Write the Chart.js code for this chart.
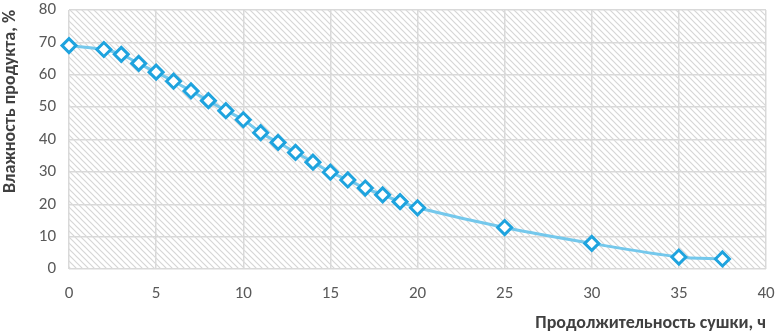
<!DOCTYPE html>
<html>
<head>
<meta charset="utf-8">
<script src="https://cdn.jsdelivr.net/npm/chart.js@4/dist/chart.umd.min.js"></script>
<style>
  html, body { margin: 0; padding: 0; background: #fff; }
  #wrap { width: 776px; height: 334px; }
</style>
</head>
<body>
<div id="wrap"><canvas id="dryChart" width="776" height="334"></canvas></div>
<script>
// Data: drying time (h) vs product moisture (%)
const hours = [0, 2, 3, 4, 5, 6, 7, 8, 9, 10, 11, 12, 13, 14, 15, 16, 17, 18, 19, 20, 25, 30, 35, 37.5];
const moisture = [69, 67.8, 66.3, 63.5, 60.8, 58, 55, 52, 48.9, 46.1, 42.1, 39.1, 36, 33, 29.9, 27.5, 25, 22.9, 20.8, 18.9, 12.8, 7.9, 3.7, 3.1];
const xTicks = [0, 5, 10, 15, 20, 25, 30, 35, 40];
const yTicks = [0, 10, 20, 30, 40, 50, 60, 70, 80];

const FONT = 'Carlito, Calibri, Lato, "Open Sans", sans-serif';

// hatch pattern for plot area
function makeHatch() {
  const c = document.createElement('canvas');
  c.width = 6; c.height = 6;
  const g = c.getContext('2d');
  g.fillStyle = '#ffffff';
  g.fillRect(0, 0, 6, 6);
  g.strokeStyle = '#d6d6d6';
  g.lineWidth = 1.2;
  g.beginPath();
  g.moveTo(-1, -1); g.lineTo(7, 7);
  g.moveTo(-4, 2); g.lineTo(4, 10);
  g.moveTo(2, -4); g.lineTo(10, 4);
  g.stroke();
  return g.createPattern(c, 'repeat');
}

const hatchBg = {
  id: 'hatchBg',
  beforeDraw(chart) {
    const { ctx, chartArea: a } = chart;
    ctx.save();
    ctx.fillStyle = makeHatch();
    ctx.fillRect(a.left, a.top, a.right - a.left, a.bottom - a.top);
    ctx.restore();
  }
};

function noPad(s) {
  s.paddingTop = 0; s.paddingBottom = 0; s.paddingLeft = 0; s.paddingRight = 0;
}

const ctx = document.getElementById('dryChart').getContext('2d');
new Chart(ctx, {
  type: 'line',
  data: {
    datasets: [{
      data: hours.map((h, i) => ({ x: h, y: moisture[i] })),
      borderColor: '#74c8ec',
      borderWidth: 3,
      tension: 0.3,
      pointStyle: 'rectRot',
      pointRadius: 7,
      pointBorderWidth: 3,
      pointBorderColor: '#1ea3de',
      pointBackgroundColor: '#ffffff',
      fill: false,
      clip: false
    }]
  },
  options: {
    responsive: false,
    animation: false,
    layout: { padding: { top: 7, right: 10, left: 0, bottom: 0 } },
    plugins: { legend: { display: false }, tooltip: { enabled: false } },
    scales: {
      x: {
        type: 'linear',
        min: 0, max: 40,
        afterBuildTicks: s => { s.ticks = xTicks.map(v => ({ value: v })); },
        afterFit: s => { s.height = 65; noPad(s); },
        grid: { color: '#d9d9d9', lineWidth: 1.5, drawTicks: false },
        border: { display: false },
        ticks: { color: '#595959', font: { family: FONT, size: 17 }, padding: 15 },
        title: {
          display: true, align: 'end',
          text: 'Продолжительность сушки, ч',
          color: '#404040', font: { family: FONT, size: 18, weight: 'bold' },
          padding: { top: 6, bottom: 0 }
        }
      },
      y: {
        min: 0, max: 80,
        afterBuildTicks: s => { s.ticks = yTicks.map(v => ({ value: v })); },
        afterFit: s => { s.width = 69; noPad(s); },
        grid: { color: '#d9d9d9', lineWidth: 1.5, drawTicks: false },
        border: { display: false },
        ticks: { color: '#595959', font: { family: FONT, size: 17 }, padding: 13 },
        title: {
          display: true, align: 'end',
          text: 'Влажность продукта, %',
          color: '#404040', font: { family: FONT, size: 18, weight: 'bold' },
          padding: { top: 0, bottom: 0 }
        }
      }
    }
  },
  plugins: [hatchBg]
});
</script>
</body>
</html>
